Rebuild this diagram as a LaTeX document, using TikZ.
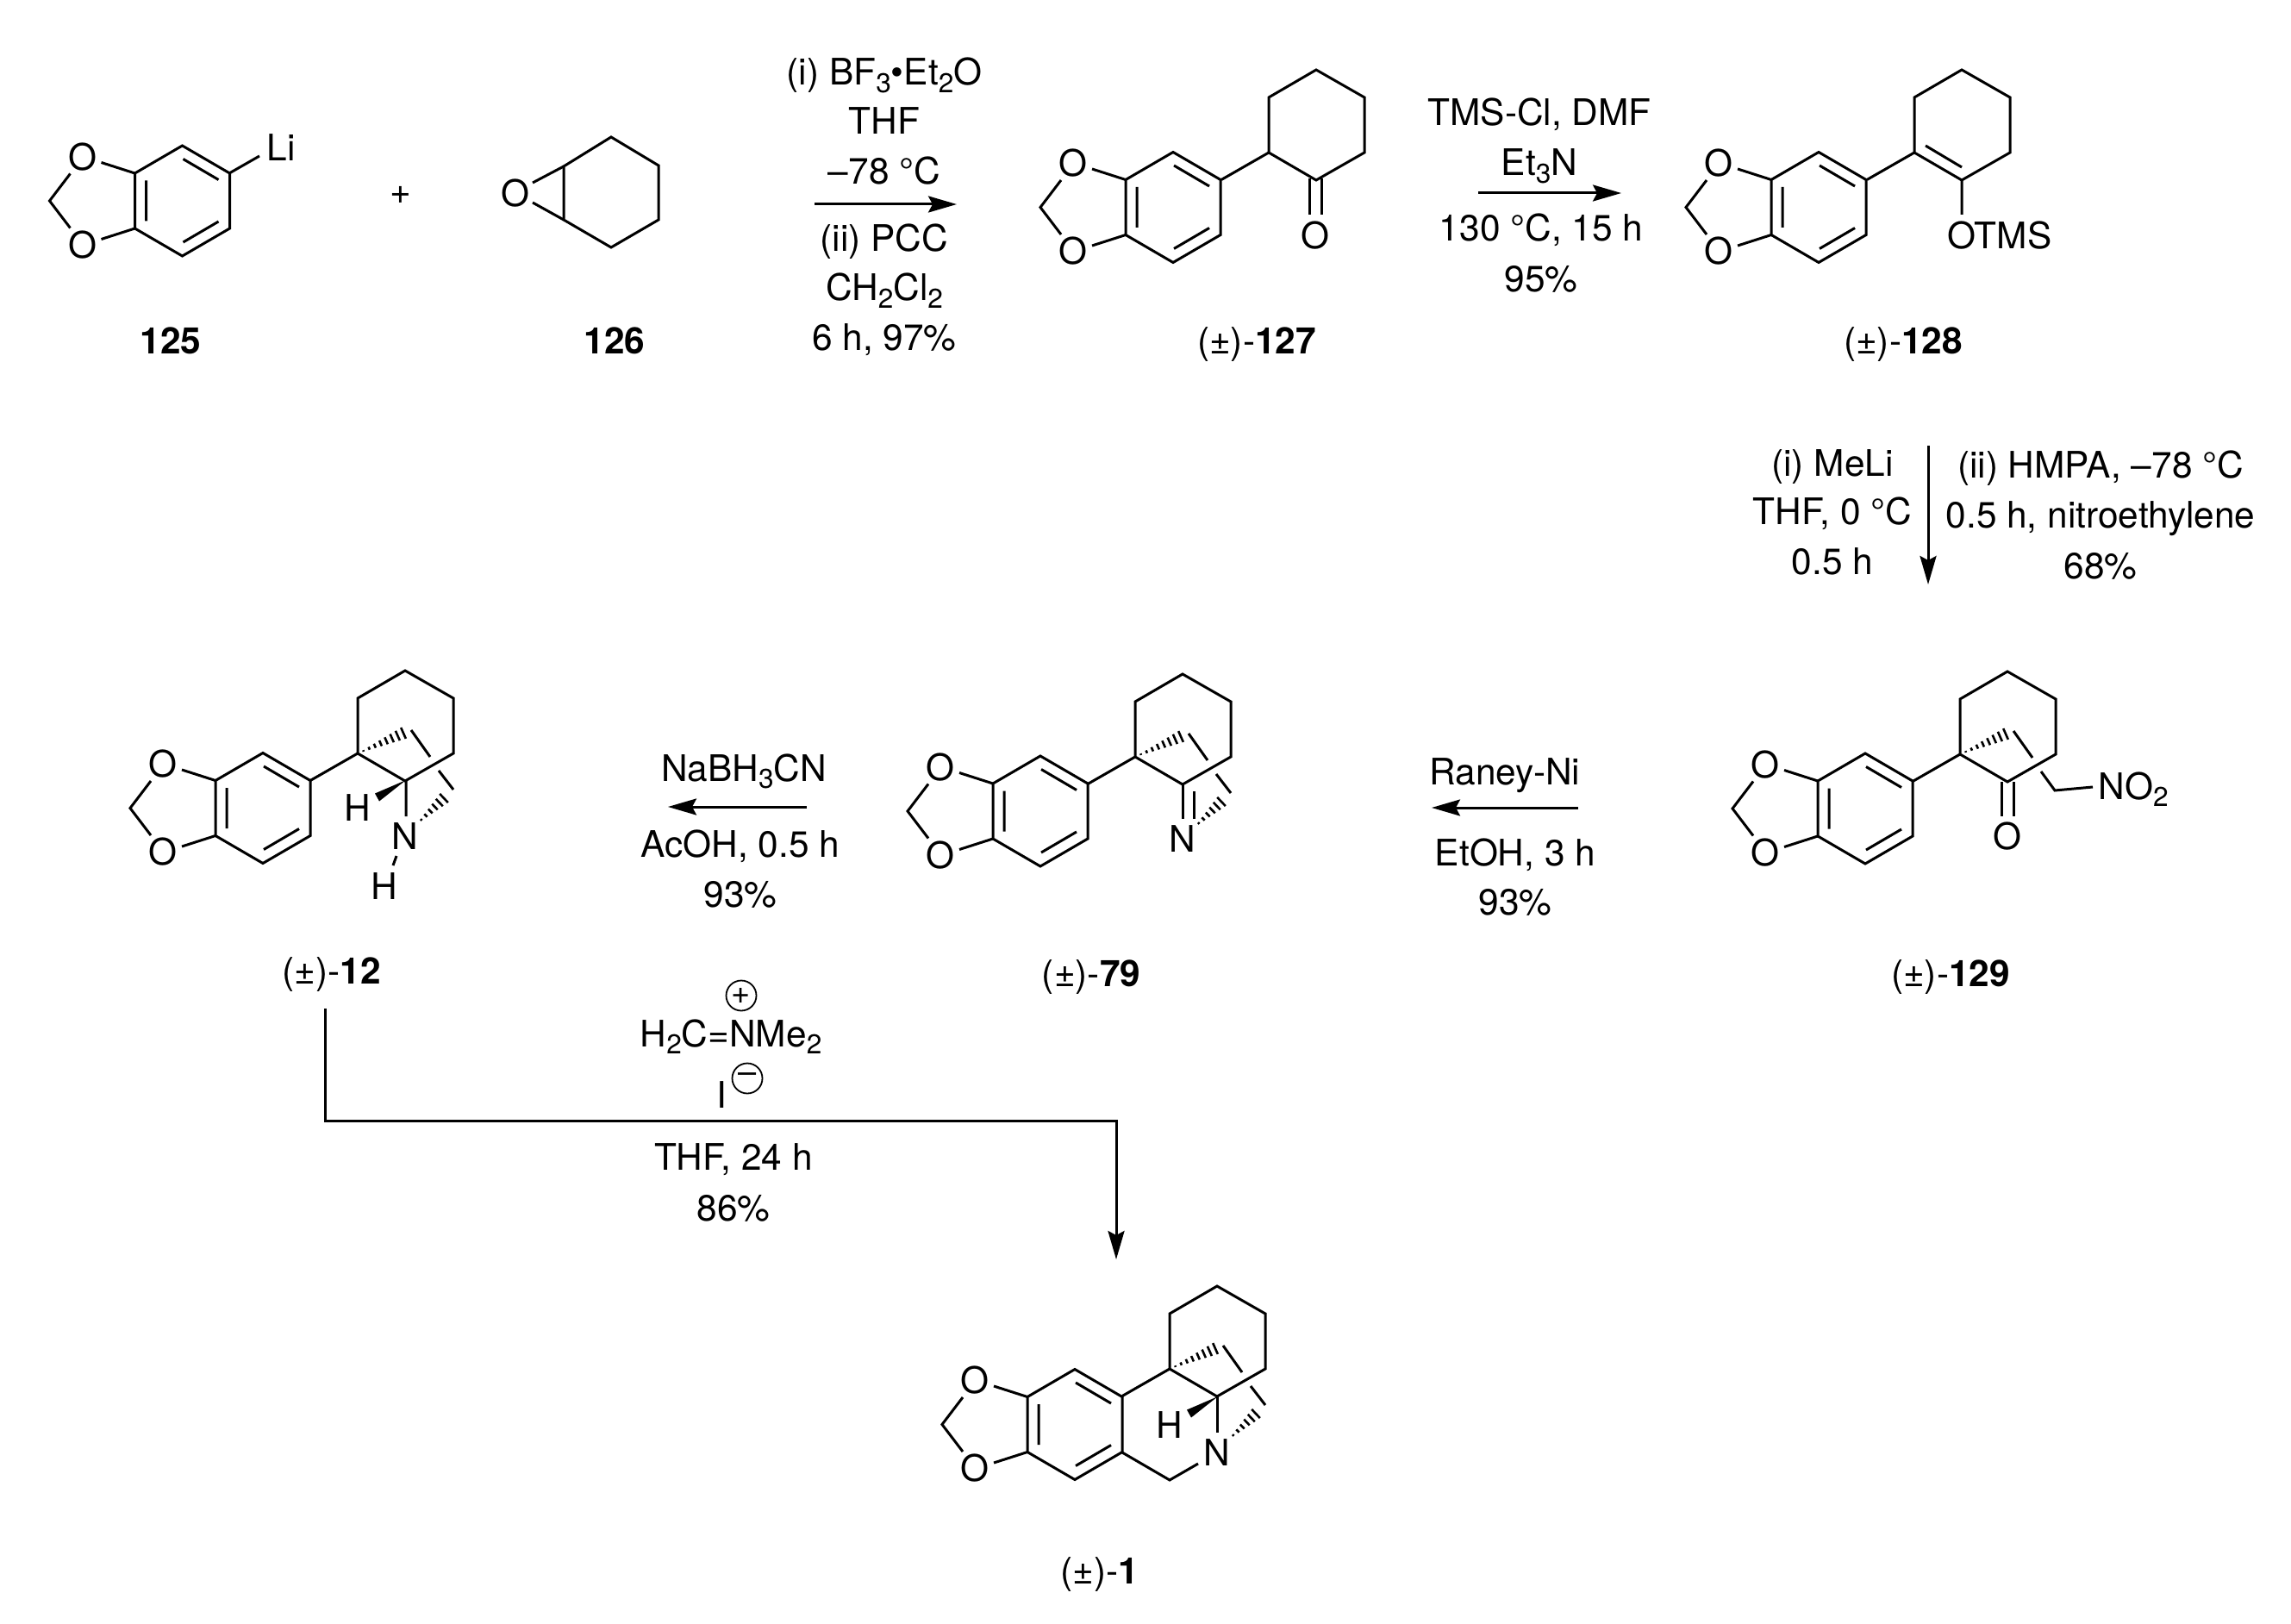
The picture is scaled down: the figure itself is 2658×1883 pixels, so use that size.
\documentclass[tikz,border=0pt]{standalone}
\usepackage{fontspec}
\setmainfont{TeX Gyre Heros}
\usetikzlibrary{arrows.meta}
\newcommand{\lsub}[1]{\raisebox{-4.2pt}{\fontsize{15.8}{18}\selectfont #1}}
\tikzset{
  bond/.style={line width=1.5pt,line join=miter,black},
  hashb/.style={line width=1.3pt,black},
  rxn/.style={line width=1.5pt,black,-{Stealth[length=16.5pt,width=9.5pt,inset=2.5pt]}},
  atomlbl/.style={inner sep=0pt,font=\fontsize{21.2}{24}\selectfont},
  txt/.style={inner sep=0pt,anchor=base,font=\fontsize{21.2}{24}\selectfont},
  chg/.style={circle,draw,line width=0.9pt,inner sep=0pt,minimum size=17.5pt,font=\fontsize{19}{20}\selectfont},
}
% hashed wedge: apex x,y -> wide end x,y, n stripes
\newcommand{\hashw}[5]{%
  \foreach \hI in {1,...,#5}{%
    \pgfmathsetmacro\hT{\hI/#5}%
    \pgfmathsetmacro\hL{veclen(#3-(#1),#4-(#2))}%
    \pgfmathsetmacro\hNx{-(#4-(#2))/\hL*7*\hT}%
    \pgfmathsetmacro\hNy{(#3-(#1))/\hL*7*\hT}%
    \pgfmathsetmacro\hX{#1+(#3-(#1))*\hT}%
    \pgfmathsetmacro\hY{#2+(#4-(#2))*\hT}%
    \draw[hashb] (\hX-\hNx,\hY-\hNy) -- (\hX+\hNx,\hY+\hNy);
  }}
% benzodioxole fragment round ring centre
\newcommand{\diox}[3]{%
  \begin{scope}[shift={(#2,#3)}]
    \draw[bond] (-55,-32) -- (0,-64) -- (55,-32) -- (55,32) -- (0,64) -- (-55,32) -- cycle;
    \draw[bond] (1,-48.5) -- (42,-24.5) (-42,-23.5) -- (-42,23.5) (1,48) -- (42,24);
    \draw[bond] (-55,-32) -- (-94,-44.5) (-55,32) -- (-94,44.5);
    \draw[bond] (-130,-31.5) -- (-154,0) -- (-130,31.5);
    \node[atomlbl] (#1Oa) at (-116,-51) {O};
    \node[atomlbl] (#1Ob) at (-116,51) {O};
  \end{scope}}
% plain six-membered ring starting at the attachment carbon, with the link bond
\newcommand{\cyc}[2]{%
  \begin{scope}[shift={(#1,#2)}]
    \draw[bond] (-55,31.5) -- (0,0);
    \draw[bond] (0,0) -- (0,-64) -- (55,-96) -- (111,-64) -- (111,0) -- (55,32) -- cycle;
  \end{scope}}
% bridge fragments
\newcommand{\bridgeA}[2]{%
  \begin{scope}[shift={(#1,#2)}]
    \hashw{0}{0}{53}{-23.5}{8}
    \draw[bond] (62,-27) -- (84,4);
  \end{scope}}
\newcommand{\bridgeB}[2]{%
  \begin{scope}[shift={(#1,#2)}]
    \draw[bond] (94,20) -- (111,42);
    \hashw{68.5}{82}{100}{52}{6}
  \end{scope}}
\newcommand{\hwedge}[2]{%
  \begin{scope}[shift={(#1,#2)}]
    \fill[black] (56,31) -- (20,46.5) -- (25,55.5) -- cycle;
  \end{scope}}
\begin{document}
\begin{tikzpicture}[x=0.5pt,y=-0.5pt]
\useasboundingbox[fill=white] (0,0) rectangle (2658,1883);

% 125
\diox{m}{211.5}{233}
\draw[bond] (266,201) -- (301,181);
\node[atomlbl] (li) at (326,171) {Li};
\node[txt] (n125) at (198,410) {\bfseries 125};
\node[atomlbl] (plus) at (465,226) {+};

% 126
\draw[bond] (654,193) -- (709,159) -- (764,192) -- (764,255) -- (709,287) -- (654,255) -- cycle;
\draw[bond] (654,193) -- (618,212) (654,255) -- (618,235);
\node[atomlbl] (ep) at (598,224) {O};
\node[txt] (n126) at (713,410) {\bfseries 126};

% arrow 1
\node[txt] (a1) at (1026,99) {(i) BF\lsub{3}•Et\lsub{2}O};
\node[txt] (a2) at (1026,156) {THF};
\node[txt] (a3) at (1026,214) {–78 °C};
\coordinate (a1s) at (945,237);
\coordinate (a1e) at (1110,237);
\draw[rxn] (a1s) -- (a1e);
\node[txt] (a4) at (1026,292) {(ii) PCC};
\node[txt] (a5) at (1026,349) {CH\lsub{2}Cl\lsub{2}};
\node[txt] (a6) at (1026,406) {6 h, 97\%};

% 127
\diox{p}{1361}{240.5}
\cyc{1472}{177}
\draw[bond] (1519,207) -- (1519,249) (1533,207) -- (1533,249);
\node[atomlbl] (o127) at (1526,273) {O};
\node[txt] (n127) at (1458,410) {(±)-\textbf{127}};

% arrow 2
\node[txt] (b1) at (1786,146) {TMS-Cl, DMF};
\node[txt] (b2) at (1786,204) {Et\lsub{3}N};
\coordinate (a2s) at (1715,224);
\coordinate (a2e) at (1881,224);
\draw[rxn] (a2s) -- (a2e);
\node[txt] (b3) at (1788,280) {130 °C, 15 h};
\node[txt] (b4) at (1788,338) {95\%};

% 128
\diox{q}{2110}{240.5}
\cyc{2221}{177}
\draw[bond] (2234,169) -- (2276,194) (2276,209) -- (2276,249);
\node[atomlbl] (otms) at (2320,273) {OTMS};
\node[txt] (n128) at (2208,410) {(±)-\textbf{128}};

% arrow 3
\coordinate (a3s) at (2237,517);
\coordinate (a3e) at (2237,678);
\draw[rxn] (a3s) -- (a3e);
\node[txt] (c1) at (2126,552) {(i) MeLi};
\node[txt] (c2) at (2126,608) {THF, 0 °C};
\node[txt] (c3) at (2126,666) {0.5 h};
\node[txt] (c4) at (2437,554) {(ii) HMPA, –78 °C};
\node[txt] (c5) at (2437,612) {0.5 h, nitroethylene};
\node[txt] (c6) at (2437,671) {68\%};

% 129
\diox{r}{2164}{938}
\cyc{2274}{875}
\bridgeA{2274}{875}
\draw[bond] (2322,907) -- (2322,947) (2336,907) -- (2336,947);
\node[atomlbl] (o129) at (2329,970) {O};
\draw[bond] (2368,895) -- (2384,917) -- (2428,913);
\node[txt,anchor=base west] (no2) at (2434,927) {NO\lsub{2}};
\node[txt] (n129) at (2263,1144) {(±)-\textbf{129}};

% arrow 4
\node[txt] (d1) at (1746,910) {Raney-Ni};
\coordinate (a4s) at (1831,937);
\coordinate (a4e) at (1661,937);
\draw[rxn] (a4s) -- (a4e);
\node[txt] (d2) at (1758,1004) {EtOH, 3 h};
\node[txt] (d3) at (1758,1061) {93\%};

% 79
\diox{s}{1207}{941}
\cyc{1317}{878}
\bridgeA{1317}{878}
\bridgeB{1317}{878}
\draw[bond] (1372,909) -- (1372,950) (1385,918) -- (1385,950);
\node[atomlbl] (n79) at (1372,973) {N};
\node[txt] (l79) at (1266,1144) {(±)-\textbf{79}};

% arrow 5
\node[txt] (e1) at (863,906) {NaBH\lsub{3}CN};
\coordinate (a5s) at (936,936);
\coordinate (a5e) at (775,936);
\draw[rxn] (a5s) -- (a5e);
\node[txt] (e2) at (859,994) {AcOH, 0.5 h};
\node[txt] (e3) at (859,1052) {93\%};

% 12
\diox{t}{305}{937.5}
\cyc{415}{874}
\bridgeA{415}{874}
\bridgeB{415}{874}
\hwedge{415}{874}
\draw[bond] (471,905) -- (471,947) (460,993) -- (456,1004);
\node[atomlbl] (n12) at (470,970) {N};
\node[atomlbl] (h12a) at (415,937) {H};
\node[atomlbl] (h12b) at (446,1028) {H};
\node[txt] (l12) at (385,1141) {(±)-\textbf{12}};

% arrow 6
\coordinate (a6s) at (377,1170);
\coordinate (a6m) at (377,1300);
\coordinate (a6n) at (1295,1300);
\coordinate (a6e) at (1295,1461);
\draw[rxn] (a6s) -- (a6m) -- (a6n) -- (a6e);
\node[txt] (f1) at (848,1214) {H\lsub{2}C=NMe\lsub{2}};
\node[chg] (fp) at (860,1155) {+};
\node[txt] (f2) at (837,1285) {I};
\node[chg] (fm) at (867,1251) {\raisebox{-0.12em}{–}};
\node[txt] (f3) at (851,1357) {THF, 24 h};
\node[txt] (f4) at (851,1416) {86\%};

% 1
\diox{u}{1247}{1652.5}
\cyc{1357}{1588}
\bridgeA{1357}{1588}
\bridgeB{1357}{1588}
\hwedge{1357}{1589}
\draw[bond] (1412,1620) -- (1412,1662);
\draw[bond] (1302,1685) -- (1357,1717) -- (1390,1698);
\node[atomlbl] (n1) at (1412,1685) {N};
\node[atomlbl] (h1) at (1357,1653) {H};
\node[txt] (l1) at (1276,1837) {(±)-\textbf{1}};
\end{tikzpicture}
\end{document}
